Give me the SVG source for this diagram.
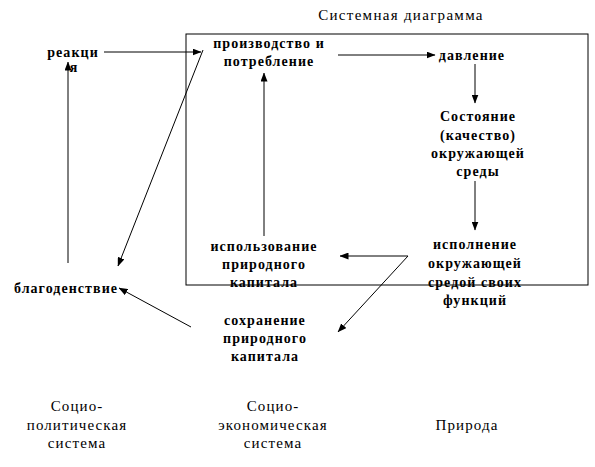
<svg xmlns="http://www.w3.org/2000/svg" width="595" height="467" viewBox="0 0 595 467">
<style>
text{font-family:"Liberation Serif","Times New Roman",serif;font-size:14px;fill:#000;text-anchor:middle}
.b{font-weight:bold;letter-spacing:1.05px}
.r{font-size:15px;letter-spacing:1.1px}
.t{font-size:15px;letter-spacing:1.3px}
.ln{stroke:#000;stroke-width:1;fill:none}
</style>
<defs>
<marker id="ah" markerWidth="9" markerHeight="7" refX="8.5" refY="3.5" orient="auto" markerUnits="userSpaceOnUse">
<path d="M0,0 L9,3.5 L0,7 Z" fill="#000"/>
</marker>
</defs>
<rect width="595" height="467" fill="#fff"/>
<text class="t" x="401" y="20">Системная диаграмма</text>
<rect x="186" y="34" width="402" height="251" class="ln"/>
<g id="reaction"><text class="b" x="73" y="57">реакци</text><text class="b" x="74" y="72">я</text></g>
<g id="production"><text class="b" x="269" y="48">производство и</text><text class="b" x="269" y="66">потребление</text></g>
<g id="pressure"><text class="b" x="472" y="60">давление</text></g>
<g id="state"><text class="b" x="478" y="121">Состояние</text><text class="b" x="478" y="140">(качество)</text><text class="b" x="478" y="158">окружающей</text><text class="b" x="478" y="176">среды</text></g>
<g id="function"><text class="b" x="475" y="249">исполнение</text><text class="b" x="475" y="268">окружающей</text><text class="b" x="475" y="287">средой своих</text><text class="b" x="475" y="305">функций</text></g>
<g id="use"><text class="b" x="264" y="251">использование</text><text class="b" x="264" y="269">природного</text><text class="b" x="264" y="287">капитала</text></g>
<g id="conservation"><text class="b" x="265" y="325">сохранение</text><text class="b" x="265" y="343">природного</text><text class="b" x="265" y="361">капитала</text></g>
<g id="welfare"><text class="b" x="66" y="293">благоденствие</text></g>
<g id="labels">
<text class="r" x="77" y="411">Социо-</text><text class="r" x="77" y="430">политическая</text><text class="r" x="77" y="448">система</text>
<text class="r" x="273" y="411">Социо-</text><text class="r" x="273" y="430">экономическая</text><text class="r" x="273" y="448">система</text>
<text class="r" x="467" y="430">Природа</text>
</g>
<g id="connectors">
<line class="ln" x1="104" y1="52" x2="201" y2="52" marker-end="url(#ah)"/>
<line class="ln" x1="203" y1="50" x2="118" y2="266" marker-end="url(#ah)"/>
<line class="ln" x1="68" y1="263" x2="68" y2="62" marker-end="url(#ah)"/>
<line class="ln" x1="338" y1="55" x2="435" y2="55" marker-end="url(#ah)"/>
<line class="ln" x1="475" y1="64" x2="475" y2="103" marker-end="url(#ah)"/>
<line class="ln" x1="475" y1="181" x2="475" y2="230" marker-end="url(#ah)"/>
<line class="ln" x1="264" y1="236" x2="264" y2="73" marker-end="url(#ah)"/>
<line class="ln" x1="408" y1="256" x2="340" y2="256" marker-end="url(#ah)"/>
<line class="ln" x1="408" y1="256" x2="338" y2="332" marker-end="url(#ah)"/>
<line class="ln" x1="191" y1="327" x2="119" y2="288" marker-end="url(#ah)"/>
</g>
</svg>
